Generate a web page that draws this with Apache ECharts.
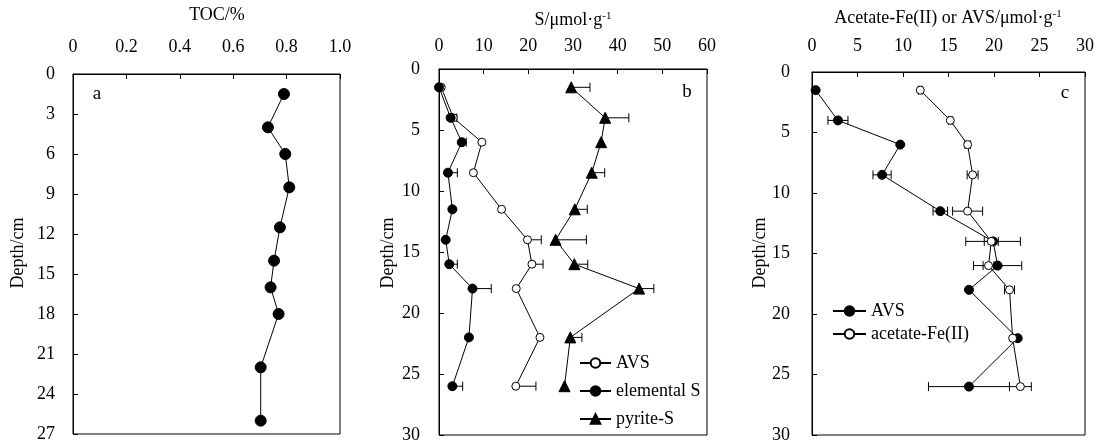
<!DOCTYPE html>
<html>
<head>
<meta charset="utf-8">
<script src="https://cdn.jsdelivr.net/npm/echarts@6/dist/echarts.min.js"></script>
<style>
html, body {margin: 0; padding: 0; background: #fff}
#chart {width: 1101px; height: 445px}
</style>
</head>
<body>
<div id="chart"></div>
<script>
// depth of each sampled layer (cm)
const depth = [1.5, 4, 6, 8.5, 11.5, 14, 16, 18, 22, 26]

// a: TOC (%)
const toc = [0.79, 0.73, 0.795, 0.81, 0.775, 0.753, 0.74, 0.77, 0.703, 0.703]

// b: sulfur species (umol/g), error = upper bar only
const avsB = [0.5, 3.2, 9.6, 7.7, 14.0, 19.8, 20.8, 17.3, 22.6, 17.2]
const avsBErr = [0, 0, 0, 0, 0, 3.1, 2.5, 0, 0, 4.5]
const elemS = [0, 2.6, 5.1, 2.0, 3.0, 1.5, 2.3, 7.5, 6.7, 3.0]
const elemSErr = [0, 1.4, 1.0, 2.1, 0, 0, 1.8, 4.2, 0, 2.3]
const pyriteS = [29.6, 37.2, 36.3, 34.2, 30.4, 26.1, 30.3, 44.8, 29.4, 28.1]
const pyriteSErr = [4.2, 5.3, 0, 2.9, 2.8, 6.9, 3.0, 3.3, 2.6, 0]

// c: AVS and acetate-Fe(II) (umol/g), symmetric error
const avsC = [0.4, 2.85, 9.7, 7.7, 14.1, 19.9, 20.4, 17.25, 22.6, 17.25]
const avsCErr = [0, 1.1, 0, 1.0, 0.8, 3.0, 2.65, 0, 0, 4.45]
const feII = [11.9, 15.2, 17.1, 17.65, 17.1, 19.7, 19.4, 21.7, 22.05, 22.9]
const feIIErr = [0.2, 0.2, 0.3, 0.6, 1.65, 0.77, 0.6, 0.55, 0, 1.2]

const FONT = '"Liberation Serif", "Times New Roman", serif'
const chart = echarts.init(document.getElementById("chart"))

const pairs = vals => vals.map((v, i) => [v, depth[i]])

function xAx(gridIndex, max, interval, margin, formatter) {
    return {
        gridIndex, type: "value", position: "top", min: 0, max, interval,
        axisLine: {show: true, lineStyle: {color: "#000", width: 1}},
        axisTick: {show: true, inside: true, length: 5, lineStyle: {color: "#000"}},
        axisLabel: {margin, fontFamily: FONT, fontSize: 18, color: "#000", formatter},
        splitLine: {show: false}
    }
}
function yAx(gridIndex, max, interval, margin) {
    return {
        gridIndex, type: "value", inverse: true, min: 0, max, interval,
        axisLine: {show: true, lineStyle: {color: "#000", width: 1}},
        axisTick: {show: true, inside: true, length: 5, lineStyle: {color: "#000"}},
        axisLabel: {margin, fontFamily: FONT, fontSize: 18, color: "#000"},
        splitLine: {show: false}
    }
}

function lineSeries(name, grid, vals, symbol, size, filled) {
    return {
        name, type: "line", xAxisIndex: grid, yAxisIndex: grid, z: 3,
        data: pairs(vals),
        symbol, symbolSize: size, showSymbol: true,
        lineStyle: {color: "#000", width: 1},
        itemStyle: {color: filled ? "#000" : "#fff", borderColor: "#000", borderWidth: 1},
        emphasis: {disabled: true}
    }
}

// horizontal error bars, drawn behind the markers
function errSeries(grid, vals, errs, both) {
    const data = []
    vals.forEach((v, i) => {
        if (errs[i]) data.push([both ? v - errs[i] : v, depth[i], v + errs[i]])
    })
    return {
        type: "custom", xAxisIndex: grid, yAxisIndex: grid, z: 2, silent: true,
        encode: {x: [0, 2], y: 1},
        data,
        renderItem: (params, api) => {
            const lo = api.coord([api.value(0), api.value(1)])
            const hi = api.coord([api.value(2), api.value(1)])
            const h = 4.5
            const st = {stroke: "#000", lineWidth: 1}
            const children = [
                {type: "line", shape: {x1: lo[0], y1: lo[1], x2: hi[0], y2: hi[1]}, style: st},
                {type: "line", shape: {x1: hi[0], y1: hi[1] - h, x2: hi[0], y2: hi[1] + h}, style: st}
            ]
            if (both) children.push({type: "line", shape: {x1: lo[0], y1: lo[1] - h, x2: lo[0], y2: lo[1] + h}, style: st})
            return {type: "group", children}
        }
    }
}

const unitRich = {
    m: {fontFamily: FONT, fontSize: 18, color: "#000"},
    s: {fontFamily: FONT, fontSize: 11, color: "#000", verticalAlign: "top", padding: [0, 0, 8, 0]}
}
const txt = (x, y, text, extra) => Object.assign({
    type: "text", x, y,
    style: {text, font: "18px " + FONT, fill: "#000", align: "center", verticalAlign: "middle"}
}, extra || {})

const option = {
    animation: false,
    backgroundColor: "#fff",
    grid: [
        {left: 73, top: 74, width: 267, height: 360, show: true, borderColor: "#000", borderWidth: 1},
        {left: 439, top: 69, width: 268, height: 366, show: true, borderColor: "#000", borderWidth: 1},
        {left: 812, top: 72, width: 273, height: 363, show: true, borderColor: "#000", borderWidth: 1}
    ],
    xAxis: [
        xAx(0, 1, 0.2, 18, v => v === 0 ? "0" : v.toFixed(1)),
        xAx(1, 60, 10, 14),
        xAx(2, 30, 5, 17)
    ],
    yAxis: [
        yAx(0, 27, 3, 18),
        yAx(1, 30, 5, 19),
        yAx(2, 30, 5, 22)
    ],
    legend: [
        {
            data: ["AVS", "elemental S", "pyrite-S"], orient: "vertical",
            left: 579, top: 354, padding: 0, itemWidth: 31, itemHeight: 12, itemGap: 10,
            textStyle: {fontFamily: FONT, fontSize: 18, color: "#000"}, selectedMode: false
        },
        {
            data: ["AVS ", "acetate-Fe(II)"], orient: "vertical",
            left: 832, top: 302, padding: 0, itemWidth: 33, itemHeight: 12, itemGap: 5,
            textStyle: {fontFamily: FONT, fontSize: 18, color: "#000"}, selectedMode: false
        }
    ],
    graphic: [
        txt(217, 15, "TOC/%"),
        txt(573, 20, "", {style: {text: "{m|S/μmol·g}{s|-1}", rich: unitRich, align: "center", verticalAlign: "middle"}}),
        txt(948, 18, "", {style: {text: "{m|Acetate-Fe(II) or AVS/μmol·g}{s|-1}", rich: unitRich, align: "center", verticalAlign: "middle"}}),
        txt(18, 253, "Depth/cm", {rotation: Math.PI / 2}),
        txt(388, 253, "Depth/cm", {rotation: Math.PI / 2}),
        txt(760, 253, "Depth/cm", {rotation: Math.PI / 2}),
        txt(97, 94, "a", {style: {text: "a", font: "19px " + FONT, fill: "#000", align: "center", verticalAlign: "middle"}}),
        txt(687, 92, "b", {style: {text: "b", font: "19px " + FONT, fill: "#000", align: "center", verticalAlign: "middle"}}),
        txt(1065, 93, "c", {style: {text: "c", font: "19px " + FONT, fill: "#000", align: "center", verticalAlign: "middle"}})
    ],
    series: [
        lineSeries("TOC", 0, toc, "circle", 11, true),

        errSeries(1, avsB, avsBErr, false),
        errSeries(1, elemS, elemSErr, false),
        errSeries(1, pyriteS, pyriteSErr, false),
        lineSeries("AVS", 1, avsB, "circle", 8, false),
        lineSeries("elemental S", 1, elemS, "circle", 9, true),
        lineSeries("pyrite-S", 1, pyriteS, "triangle", 11, true),

        errSeries(2, avsC, avsCErr, true),
        errSeries(2, feII, feIIErr, true),
        lineSeries("AVS ", 2, avsC, "circle", 9, true),
        lineSeries("acetate-Fe(II)", 2, feII, "circle", 8, false)
    ]
}
chart.setOption(option)
</script>
</body>
</html>
